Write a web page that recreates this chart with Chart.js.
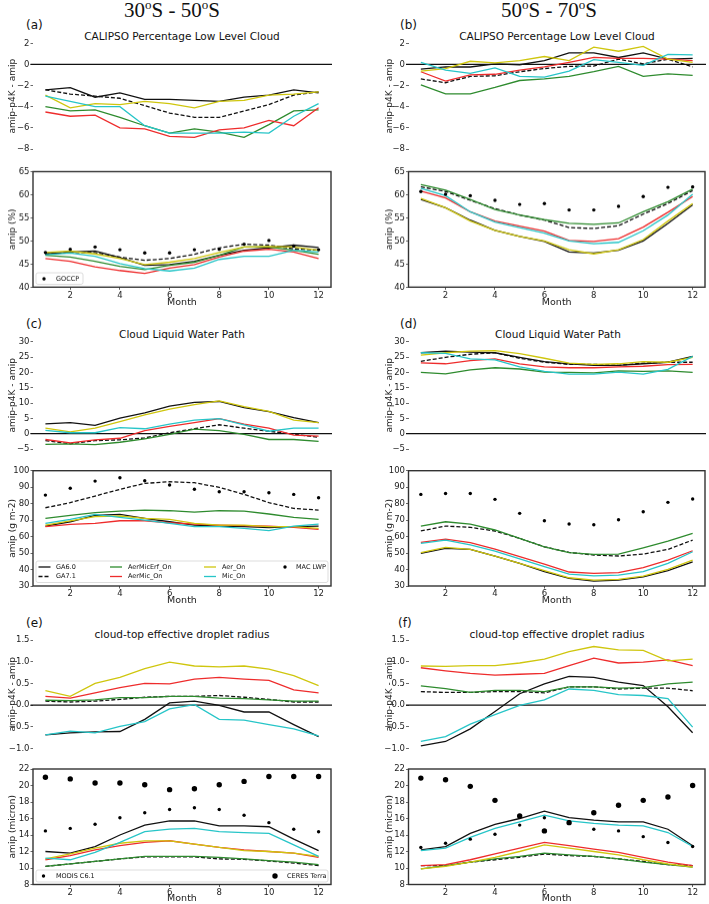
<!DOCTYPE html>
<html><head><meta charset="utf-8">
<script src="https://cdn.jsdelivr.net/npm/chart.js@4.4.1/dist/chart.umd.min.js"></script>
<style>
html,body{margin:0;padding:0;background:#fff;}
body{width:709px;height:904px;position:relative;overflow:hidden;font-family:"DejaVu Sans",sans-serif;color:#111;}
canvas{position:absolute;}
.coltitle{position:absolute;font-family:"Liberation Serif",serif;font-size:21px;line-height:1;white-space:nowrap;transform:translateX(-50%);color:#111;}
.coltitle sup{font-size:13px;vertical-align:8px;line-height:0;}
.plabel{position:absolute;font-size:12px;line-height:1;white-space:nowrap;}
.ptitle{position:absolute;font-size:10.5px;line-height:1;white-space:nowrap;transform:translateX(-50%);}
</style></head><body>
<div class="coltitle" style="left:172px;top:0px">30<sup>o</sup>S - 50<sup>o</sup>S</div>
<div class="coltitle" style="left:549px;top:0px">50<sup>o</sup>S - 70<sup>o</sup>S</div>
<div class="plabel" style="left:26px;top:18.5px">(a)</div>
<div class="plabel" style="left:400px;top:18.5px">(b)</div>
<div class="plabel" style="left:26px;top:317.5px">(c)</div>
<div class="plabel" style="left:400px;top:317.5px">(d)</div>
<div class="plabel" style="left:26px;top:616.5px">(e)</div>
<div class="plabel" style="left:398px;top:616.5px">(f)</div>
<div class="ptitle" style="left:182px;top:30.5px">CALIPSO Percentage Low Level Cloud</div>
<div class="ptitle" style="left:557px;top:30.5px">CALIPSO Percentage Low Level Cloud</div>
<div class="ptitle" style="left:182px;top:328.8px">Cloud Liquid Water Path</div>
<div class="ptitle" style="left:558px;top:328.8px">Cloud Liquid Water Path</div>
<div class="ptitle" style="left:182px;top:628.8px">cloud-top effective droplet radius</div>
<div class="ptitle" style="left:557px;top:628.8px">cloud-top effective droplet radius</div>
<script>
// ---------------- data ----------------
const months = [1,2,3,4,5,6,7,8,9,10,11,12];
const monthTicks = [2,4,6,8,10,12];
const modelNames = ['GA6.0','GA7.1','AerMicErf_On','AerMic_On','Aer_On','Mic_On'];

// tick labels
const lowCloudDiffTicks = [-8,-6,-4,-2,0,2];
const lowCloudAmipTicks = [40,45,50,55,60,65];
const lwpDiffTicks = [-5,0,5,10,15,20,25,30];
const lwpAmipTicks = [30,40,50,60,70,80,90,100];
const reffDiffTicks = [-1.0,-0.5,0.0,0.5,1.0,1.5];
const reffAmipTicks = [8,10,12,14,16,18,20,22];

// (a) CALIPSO low cloud, 30S-50S : amip-p4K - amip
const aDiff_GA60      = [-2.4,-2.2,-3.1,-2.7,-3.3,-3.3,-3.4,-3.5,-3.1,-2.9,-2.4,-2.7];
const aDiff_GA71      = [-2.4,-2.8,-3.0,-3.2,-3.9,-4.6,-5.0,-5.0,-4.4,-3.8,-2.9,-2.6];
const aDiff_AerMicErf = [-4.0,-4.4,-4.3,-5.0,-5.8,-6.5,-6.1,-6.4,-6.9,-5.7,-4.4,-4.3];
const aDiff_AerMic    = [-4.5,-4.9,-4.8,-6.0,-6.1,-6.8,-6.9,-6.2,-6.0,-5.3,-5.8,-4.1];
const aDiff_Aer       = [-2.9,-4.1,-3.7,-3.8,-3.5,-3.7,-4.1,-3.5,-3.4,-2.9,-2.8,-2.6];
const aDiff_Mic       = [-3.0,-3.5,-4.0,-4.0,-5.8,-6.5,-6.5,-6.5,-6.4,-6.5,-4.9,-3.7];
// (a) amip
const aAmip_GA60      = [47.2,47.6,47.8,46.4,44.7,44.9,45.6,46.9,48.0,48.5,49.1,48.6];
const aAmip_GA71      = [47.2,47.5,47.5,46.5,45.8,46.2,47.1,48.5,49.3,49.1,48.3,48.0];
const aAmip_AerMicErf = [46.9,46.5,45.6,44.5,43.8,44.7,45.4,46.9,48.7,48.7,48.0,47.1];
const aAmip_AerMic    = [46.2,45.6,44.4,43.6,43.0,44.1,44.9,46.5,47.8,48.2,47.6,46.2];
const aAmip_Aer       = [47.5,47.8,47.2,46.2,44.9,45.4,46.2,47.5,48.7,48.8,48.7,48.0];
const aAmip_Mic       = [47.0,47.4,46.7,45.1,44.0,43.5,44.1,46.0,46.7,46.7,48.0,47.6];
const aObs_GOCCP      = [47.5,48.2,48.7,48.1,47.4,47.4,48.1,48.2,49.3,50.1,48.9,48.1];

// (b) CALIPSO low cloud, 50S-70S : amip-p4K - amip
const bDiff_GA60      = [-0.45,-0.24,-0.24,0.06,-0.03,0.36,1.1,1.1,0.66,1.1,0.5,0.57];
const bDiff_GA71      = [-1.37,-1.73,-1.13,-1.07,-0.69,-0.39,-0.18,-0.15,0.5,0.06,0.5,-0.24];
const bDiff_AerMicErf = [-1.94,-2.78,-2.78,-2.18,-1.52,-1.37,-1.13,-0.69,-0.18,-1.13,-0.9,-1.04];
const bDiff_AerMic    = [-0.69,-1.58,-0.99,-0.93,-0.54,-0.24,0.2,0.66,0.57,0.57,0.5,0.36];
const bDiff_Aer       = [-0.63,-0.39,0.3,0.15,0.36,0.75,0.36,1.64,1.25,1.7,0.5,0.2];
const bDiff_Mic       = [0.2,-0.54,-0.84,-0.33,-1.13,-1.2,-0.63,0.45,0.2,-0.09,0.95,0.9];
// (b) amip
const bAmip_GA60      = [59.0,57.2,54.5,52.3,51.0,49.9,47.6,47.4,48.0,50.0,53.8,57.8];
const bAmip_GA71      = [61.7,60.7,58.8,57.0,55.6,54.5,52.9,52.7,53.3,55.8,58.1,60.9];
const bAmip_AerMicErf = [62.2,61.0,59.0,56.8,55.6,54.6,53.8,53.6,53.9,56.3,58.5,61.2];
const bAmip_AerMic    = [60.8,59.3,56.3,54.3,53.2,52.1,50.1,49.9,50.5,53.0,56.2,59.6];
const bAmip_Aer       = [59.2,57.2,54.3,52.3,51.0,50.0,48.1,47.2,48.1,50.3,54.3,58.1];
const bAmip_Mic       = [61.4,59.8,56.3,54.1,52.9,51.7,50.0,49.4,49.7,52.2,55.6,60.1];
const bObs_GOCCP      = [60.7,60.1,59.8,58.8,57.9,58.1,56.7,56.7,57.5,59.6,61.6,61.7];

// (c) Cloud liquid water path, 30S-50S : amip-p4K - amip
const cDiff_GA60      = [3.2,3.6,2.7,5.1,6.8,9.0,10.2,10.5,8.5,7.2,5.2,3.6];
const cDiff_GA71      = [-2.3,-3.3,-2.3,-2.0,-1.4,0.3,1.6,2.9,1.8,0.8,-0.2,-1.2];
const cDiff_AerMicErf = [-3.5,-3.3,-3.6,-2.8,-1.7,-0.2,1.5,1.0,-0.2,-1.9,-1.9,-2.5];
const cDiff_AerMic    = [-1.9,-3.0,-2.0,-1.5,1.0,2.4,3.6,4.9,3.1,1.8,-0.5,-0.8];
const cDiff_Aer       = [1.8,0.6,1.8,3.9,6.1,8.0,9.5,10.7,8.8,7.3,4.4,3.6];
const cDiff_Mic       = [1.1,0.3,0.3,2.0,1.6,3.1,4.4,4.9,2.9,0.8,1.8,1.8];
// (c) amip
const cAmip_GA60      = [66.4,69.0,72.9,73.5,71.1,69.0,67.0,66.4,66.0,65.4,66.0,66.4];
const cAmip_GA71      = [77.5,80.6,84.6,88.7,92.3,93.3,92.7,89.9,85.6,80.6,77.1,76.1];
const cAmip_AerMicErf = [71.1,72.9,74.5,75.5,76.1,75.7,74.9,75.7,75.5,73.7,71.7,70.4];
const cAmip_AerMic    = [66.0,67.4,68.0,69.6,69.6,68.4,67.6,67.0,66.6,66.4,65.6,64.4];
const cAmip_Aer       = [67.0,69.6,72.1,72.5,71.1,70.4,68.0,67.0,67.0,66.0,66.0,65.0];
const cAmip_Mic       = [68.0,70.4,73.5,71.7,70.0,68.0,66.0,66.0,65.0,63.6,66.4,67.6];
const cObs_MAC        = [85.2,89.3,93.7,95.7,93.9,91.3,88.7,87.2,87.2,86.6,85.6,83.6];

// (d) Cloud liquid water path, 50S-70S : amip-p4K - amip
const dDiff_GA60      = [26.4,26.9,26.6,26.4,24.9,23.5,22.8,22.3,22.3,22.8,23.3,25.2];
const dDiff_GA71      = [23.6,24.9,25.9,26.4,24.6,23.3,22.6,22.6,22.3,23.0,23.3,23.3];
const dDiff_AerMicErf = [20.0,19.5,20.8,21.5,21.1,20.1,20.0,19.8,20.5,20.3,20.5,20.0];
const dDiff_AerMic    = [23.1,22.8,23.8,24.4,22.8,21.8,21.5,21.5,21.8,22.0,22.5,22.6];
const dDiff_Aer       = [25.6,26.4,26.9,27.1,26.1,24.6,23.0,22.6,22.8,23.5,23.3,24.9];
const dDiff_Mic       = [26.4,26.2,24.4,24.1,21.8,20.3,19.4,19.4,20.1,19.4,21.0,25.2];
// (d) amip
const dAmip_GA60      = [49.8,52.8,52.2,48.2,43.7,38.7,34.6,33.0,33.6,35.6,39.3,44.7];
const dAmip_GA71      = [63.4,66.4,65.6,63.4,58.9,53.8,50.4,48.8,48.2,49.4,52.2,57.9];
const dAmip_AerMicErf = [66.4,69.0,67.6,64.0,58.9,53.8,50.2,49.2,49.4,53.2,57.3,61.9];
const dAmip_AerMic    = [56.5,58.5,56.3,52.4,47.8,43.3,38.5,37.7,38.1,41.1,45.7,51.4];
const dAmip_Aer       = [50.2,53.4,52.2,48.2,43.7,39.3,35.0,33.6,34.0,36.0,40.1,45.7];
const dAmip_Mic       = [55.9,57.9,54.9,51.2,46.4,41.7,37.2,36.2,36.6,38.7,43.7,50.8];
const dObs_MAC        = [85.6,86.2,86.2,82.6,74.1,69.6,67.6,67.2,70.2,75.1,80.8,82.8];

// (e) cloud-top effective droplet radius, 30S-50S : amip-p4K - amip
const eDiff_GA60      = [-0.69,-0.64,-0.62,-0.61,-0.33,0.05,0.09,-0.01,-0.16,-0.16,-0.45,-0.73];
const eDiff_GA71      = [0.09,0.07,0.09,0.13,0.18,0.20,0.20,0.22,0.18,0.13,0.07,0.07];
const eDiff_AerMicErf = [0.11,0.10,0.12,0.17,0.17,0.20,0.20,0.16,0.15,0.12,0.09,0.09];
const eDiff_AerMic    = [0.20,0.16,0.28,0.40,0.50,0.49,0.60,0.64,0.60,0.57,0.35,0.28];
const eDiff_Aer       = [0.33,0.20,0.50,0.64,0.84,0.99,0.90,0.88,0.90,0.83,0.68,0.45];
const eDiff_Mic       = [-0.69,-0.60,-0.64,-0.49,-0.38,-0.09,0.01,-0.33,-0.35,-0.45,-0.55,-0.71];
// (e) amip
const eAmip_GA60      = [12.0,11.8,12.6,14.0,15.2,15.7,15.7,15.1,15.1,15.0,13.5,12.1];
const eAmip_GA71      = [10.2,10.5,10.8,11.1,11.35,11.35,11.35,11.1,11.05,10.85,10.6,10.3];
const eAmip_AerMicErf = [10.2,10.5,10.8,11.1,11.4,11.4,11.4,11.3,11.1,10.9,10.7,10.4];
const eAmip_AerMic    = [11.0,11.5,12.2,12.7,13.1,13.3,12.9,12.5,12.2,12.0,11.8,11.3];
const eAmip_Aer       = [11.1,11.7,12.4,13.0,13.3,13.3,12.9,12.5,12.1,12.0,11.8,11.4];
const eAmip_Mic       = [11.2,11.0,11.9,13.1,14.4,14.7,14.8,14.4,14.3,14.2,12.8,11.4];
const eObs_MODIS      = [14.5,14.8,15.3,16.1,16.7,17.1,17.3,17.1,16.4,15.5,14.7,14.4];
const eObs_CERES      = [21.0,20.8,20.3,20.3,20.1,19.5,19.6,20.1,20.5,21.1,21.1,21.1];

// (f) cloud-top effective droplet radius, 50S-70S : amip-p4K - amip
const fDiff_GA60      = [-0.94,-0.84,-0.55,-0.15,0.26,0.49,0.66,0.64,0.53,0.45,-0.04,-0.64];
const fDiff_GA71      = [0.31,0.29,0.29,0.31,0.31,0.28,0.42,0.42,0.37,0.39,0.39,0.33];
const fDiff_AerMicErf = [0.44,0.38,0.29,0.34,0.34,0.31,0.42,0.42,0.39,0.40,0.49,0.53];
const fDiff_AerMic    = [0.86,0.79,0.73,0.69,0.71,0.73,0.91,1.08,0.97,0.99,1.04,0.91];
const fDiff_Aer       = [0.90,0.89,0.91,0.91,0.97,1.06,1.23,1.35,1.27,1.26,1.02,1.06];
const fDiff_Mic       = [-0.84,-0.73,-0.44,-0.22,-0.01,0.12,0.37,0.34,0.24,0.22,0.15,-0.51];
// (f) amip
const fAmip_GA60      = [12.2,12.6,14.2,15.3,16.0,16.9,16.1,15.8,15.6,15.6,14.7,12.7];
const fAmip_GA71      = [10.3,10.3,10.7,11.0,11.3,11.7,11.5,11.4,11.1,10.8,10.4,10.3];
const fAmip_AerMicErf = [9.9,10.3,10.7,11.1,11.4,11.8,11.6,11.4,11.1,10.7,10.4,10.1];
const fAmip_AerMic    = [10.3,10.4,11.0,11.7,12.4,13.1,12.7,12.3,11.9,11.3,10.7,10.3];
const fAmip_Aer       = [9.9,10.2,10.7,11.3,12.0,12.8,12.4,12.0,11.6,11.0,10.5,10.1];
const fAmip_Mic       = [12.1,12.4,13.7,14.8,15.6,16.4,15.7,15.4,15.2,15.1,14.3,12.6];
const fObs_MODIS      = [12.5,13.0,13.5,14.1,15.2,16.1,15.6,14.7,14.5,13.8,13.1,12.6];
const fObs_CERES      = [20.9,20.7,19.9,18.2,16.3,14.5,15.5,16.7,17.6,18.2,18.6,20.0];

const obsNameGOCCP = 'GOCCP';
const obsNameMAC = 'MAC LWP';
const obsNameMODIS = 'MODIS C6.1';
const obsNameCERES = 'CERES Terra';

// ---------------- styles ----------------
const modelColors = ['#111111','#111111','#2e8b2e','#ee2c2c','#cfc60e','#27c5c8'];
const modelDash = [[],[4,2],[],[],[],[]];
const FONT = '"DejaVu Sans", sans-serif';
const LEFT = {x:0, w:345, l:33, r:331};
const RIGHT = {x:377, w:332, l:408.5, r:705};

function pts(arr){ return months.map((m,i)=>({x:m, y:arr[i]})); }
function modelSets(arrs){
  return arrs.map((a,i)=>({label:modelNames[i], data:pts(a), borderColor:modelColors[i],
    borderDash:modelDash[i], borderWidth:1.3, pointRadius:0, pointHoverRadius:0, tension:0, fill:false, order:20-i}));
}
function obsSet(label, arr, r){
  return {label, data:pts(arr), showLine:false, pointRadius:r, pointHoverRadius:r, pointStyle:'circle',
    backgroundColor:'#000', borderColor:'#000', borderWidth:0, order:0};
}
function fmtInt(v){ return String(v).replace('-', '\u2212'); }
function fmt1(v){ return v.toFixed(1).replace('-', '\u2212'); }

function panel(cfg){
  const col = cfg.col;
  const W = col.w, H = cfg.cBottom - cfg.cTop;
  const cv = document.createElement('canvas');
  cv.width = W; cv.height = H;
  cv.style.left = col.x + 'px'; cv.style.top = cfg.cTop + 'px';
  cv.style.width = W + 'px'; cv.style.height = H + 'px';
  document.body.appendChild(cv);
  const yW = col.l - col.x, padR = col.x + W - col.r, padT = cfg.top - cfg.cTop, xH = cfg.cBottom - cfg.bottom;
  const ox = col.x, oy = cfg.cTop;
  const plugins = [];
  if (cfg.zero) plugins.push({id:'zeroLine', beforeDatasetsDraw(c){
    const ctx = c.ctx, y = c.scales.y.getPixelForValue(0), a = c.chartArea;
    ctx.save(); ctx.strokeStyle = '#111'; ctx.lineWidth = 1.2;
    ctx.beginPath(); ctx.moveTo(a.left - 2.5, y); ctx.lineTo(a.right + 1, y); ctx.stroke(); ctx.restore();
  }});
  if (cfg.framed) plugins.push({id:'frame', afterDatasetsDraw(c){
    const ctx = c.ctx, a = c.chartArea;
    ctx.save(); ctx.strokeStyle = '#333'; ctx.lineWidth = 1.4;
    ctx.strokeRect(a.left, a.top, a.right - a.left, a.bottom - a.top); ctx.restore();
  }});
  if (cfg.legend) plugins.push({id:'panelLegend', afterDatasetsDraw(c){
    const L = cfg.legend, ctx = c.ctx;
    ctx.save();
    const bx = L.box[0]-ox, by = L.box[1]-oy, bw = L.box[2], bh = L.box[3];
    ctx.beginPath(); ctx.roundRect(bx, by, bw, bh, 2);
    ctx.fillStyle = 'rgba(255,255,255,0.85)'; ctx.fill();
    ctx.strokeStyle = '#d4d4d4'; ctx.lineWidth = 0.8; ctx.stroke();
    ctx.font = '6.5px ' + FONT; ctx.textBaseline = 'middle'; ctx.textAlign = 'left';
    L.items.forEach(it => {
      const y = it.y - oy;
      if (it.kind === 'line') {
        ctx.beginPath(); ctx.setLineDash(it.dash || []); ctx.strokeStyle = it.color; ctx.lineWidth = 1.3;
        ctx.moveTo(it.x - ox, y); ctx.lineTo(it.x - ox + 12, y); ctx.stroke(); ctx.setLineDash([]);
      } else {
        ctx.beginPath(); ctx.fillStyle = '#000'; ctx.arc(it.x - ox, y, it.r, 0, Math.PI*2); ctx.fill();
      }
      ctx.fillStyle = '#111'; ctx.fillText(it.label, it.tx - ox, y + 0.3);
    });
    ctx.restore();
  }});
  new Chart(cv, {
    type: 'line',
    data: {datasets: cfg.datasets},
    options: {
      responsive: false, animation: false, devicePixelRatio: 1,
      events: [],
      layout: {padding: {left: 0, top: padT, right: padR, bottom: cfg.showX ? 0 : xH}},
      plugins: {legend: {display: false}, tooltip: {enabled: false}, title: {display: false}},
      scales: {
        x: {
          type: 'linear', min: 0.5, max: 12.5, display: cfg.showX,
          afterBuildTicks: s => { s.ticks = monthTicks.map(v => ({value: v})); },
          afterFit: s => { s.height = xH; s.paddingLeft = 0; s.paddingRight = 0; s.paddingTop = 0; s.paddingBottom = 0; },
          grid: {display: true, drawOnChartArea: false, drawTicks: true, tickLength: 2.5, color: '#333', lineWidth: 0.8},
          border: {display: false},
          ticks: {font: {size: 8.5, family: FONT}, color: '#222', padding: 0.5, maxRotation: 0, autoSkip: false,
                  callback: v => fmtInt(v)},
          title: {display: true, text: 'Month', font: {size: 9.5, family: FONT}, color: '#222', padding: {top: 0, bottom: 0}}
        },
        y: {
          type: 'linear', min: cfg.yMin, max: cfg.yMax,
          afterBuildTicks: s => { s.ticks = cfg.yTicks.map(v => ({value: v})); },
          afterFit: s => { s.width = yW; s.paddingTop = 0; s.paddingBottom = 0; s.paddingLeft = 0; s.paddingRight = 0; },
          grid: {display: true, drawOnChartArea: false, drawTicks: true, tickLength: 2.5, color: '#444', lineWidth: 0.8},
          border: {display: false},
          ticks: {font: {size: 8.5, family: FONT}, color: '#222', padding: 1, autoSkip: false, callback: cfg.yFmt},
          title: {display: true, text: cfg.yTitle, font: {size: 9, family: FONT}, color: '#222', padding: {top: 7.6, bottom: 0}}
        }
      }
    },
    plugins
  });
}

const diffTitle = 'amip-p4K - amip';

// ---- row 1 ----
panel({col: LEFT, cTop: 30, cBottom: 163, top: 43.3, bottom: 156, yMin: -8, yMax: 2, yTicks: lowCloudDiffTicks, yFmt: fmtInt,
  yTitle: diffTitle, showX: false, zero: true,
  datasets: modelSets([aDiff_GA60, aDiff_GA71, aDiff_AerMicErf, aDiff_AerMic, aDiff_Aer, aDiff_Mic])});
panel({col: RIGHT, cTop: 30, cBottom: 163, top: 43.3, bottom: 156, yMin: -8, yMax: 2, yTicks: lowCloudDiffTicks, yFmt: fmtInt,
  yTitle: diffTitle, showX: false, zero: true,
  datasets: modelSets([bDiff_GA60, bDiff_GA71, bDiff_AerMicErf, bDiff_AerMic, bDiff_Aer, bDiff_Mic])});
panel({col: LEFT, cTop: 160, cBottom: 307.7, top: 171.5, bottom: 287, yMin: 40, yMax: 65, yTicks: lowCloudAmipTicks, yFmt: fmtInt,
  yTitle: 'amip (%)', showX: true, framed: true,
  datasets: [...modelSets([aAmip_GA60, aAmip_GA71, aAmip_AerMicErf, aAmip_AerMic, aAmip_Aer, aAmip_Mic]), obsSet(obsNameGOCCP, aObs_GOCCP, 1.7)],
  legend: {box: [36, 272, 47, 11.5], items: [{kind: 'dot', r: 1.7, x: 44, y: 278, tx: 56, label: obsNameGOCCP}]}});
panel({col: RIGHT, cTop: 160, cBottom: 307.7, top: 171.5, bottom: 287, yMin: 40, yMax: 65, yTicks: lowCloudAmipTicks, yFmt: fmtInt,
  yTitle: 'amip (%)', showX: true, framed: true,
  datasets: [...modelSets([bAmip_GA60, bAmip_GA71, bAmip_AerMicErf, bAmip_AerMic, bAmip_Aer, bAmip_Mic]), obsSet(obsNameGOCCP, bObs_GOCCP, 1.7)]});

// ---- row 2 ----
panel({col: LEFT, cTop: 330, cBottom: 462, top: 341.7, bottom: 455.5, yMin: -5, yMax: 30, yTicks: lwpDiffTicks, yFmt: fmtInt,
  yTitle: diffTitle, showX: false, zero: true,
  datasets: modelSets([cDiff_GA60, cDiff_GA71, cDiff_AerMicErf, cDiff_AerMic, cDiff_Aer, cDiff_Mic])});
panel({col: RIGHT, cTop: 330, cBottom: 462, top: 341.7, bottom: 455.5, yMin: -5, yMax: 30, yTicks: lwpDiffTicks, yFmt: fmtInt,
  yTitle: diffTitle, showX: false, zero: true,
  datasets: modelSets([dDiff_GA60, dDiff_GA71, dDiff_AerMicErf, dDiff_AerMic, dDiff_Aer, dDiff_Mic])});
panel({col: LEFT, cTop: 460, cBottom: 606, top: 470.7, bottom: 586, yMin: 30, yMax: 100, yTicks: lwpAmipTicks, yFmt: fmtInt,
  yTitle: 'amip (g m-2)', showX: true, framed: true,
  datasets: [...modelSets([cAmip_GA60, cAmip_GA71, cAmip_AerMicErf, cAmip_AerMic, cAmip_Aer, cAmip_Mic]), obsSet(obsNameMAC, cObs_MAC, 1.7)],
  legend: {box: [36, 561, 292, 21.5], items: [
    {kind: 'line', color: modelColors[0], dash: modelDash[0], x: 38.5, y: 567, tx: 56, label: modelNames[0]},
    {kind: 'line', color: modelColors[1], dash: modelDash[1], x: 38.5, y: 576.5, tx: 56, label: modelNames[1]},
    {kind: 'line', color: modelColors[2], dash: modelDash[2], x: 110, y: 567, tx: 128, label: modelNames[2]},
    {kind: 'line', color: modelColors[3], dash: modelDash[3], x: 110, y: 576.5, tx: 128, label: modelNames[3]},
    {kind: 'line', color: modelColors[4], dash: modelDash[4], x: 204, y: 567, tx: 222, label: modelNames[4]},
    {kind: 'line', color: modelColors[5], dash: modelDash[5], x: 204, y: 576.5, tx: 222, label: modelNames[5]},
    {kind: 'dot', r: 1.7, x: 285, y: 567, tx: 296, label: obsNameMAC}]}});
panel({col: RIGHT, cTop: 460, cBottom: 606, top: 470.7, bottom: 586, yMin: 30, yMax: 100, yTicks: lwpAmipTicks, yFmt: fmtInt,
  yTitle: 'amip (g m-2)', showX: true, framed: true,
  datasets: [...modelSets([dAmip_GA60, dAmip_GA71, dAmip_AerMicErf, dAmip_AerMic, dAmip_Aer, dAmip_Mic]), obsSet(obsNameMAC, dObs_MAC, 1.7)]});

// ---- row 3 ----
panel({col: LEFT, cTop: 628, cBottom: 761, top: 640, bottom: 754.7, yMin: -1, yMax: 1.5, yTicks: reffDiffTicks, yFmt: fmt1,
  yTitle: diffTitle, showX: false, zero: true,
  datasets: modelSets([eDiff_GA60, eDiff_GA71, eDiff_AerMicErf, eDiff_AerMic, eDiff_Aer, eDiff_Mic])});
panel({col: RIGHT, cTop: 628, cBottom: 761, top: 640, bottom: 754.7, yMin: -1, yMax: 1.5, yTicks: reffDiffTicks, yFmt: fmt1,
  yTitle: diffTitle, showX: false, zero: true,
  datasets: modelSets([fDiff_GA60, fDiff_GA71, fDiff_AerMicErf, fDiff_AerMic, fDiff_Aer, fDiff_Mic])});
panel({col: LEFT, cTop: 758, cBottom: 904, top: 769, bottom: 884.5, yMin: 8, yMax: 22, yTicks: reffAmipTicks, yFmt: fmtInt,
  yTitle: 'amip (micron)', showX: true, framed: true,
  datasets: [...modelSets([eAmip_GA60, eAmip_GA71, eAmip_AerMicErf, eAmip_AerMic, eAmip_Aer, eAmip_Mic]),
             obsSet(obsNameMODIS, eObs_MODIS, 1.7), obsSet(obsNameCERES, eObs_CERES, 2.7)],
  legend: {box: [36, 870, 292, 12], items: [
    {kind: 'dot', r: 1.7, x: 43.5, y: 876, tx: 56, label: obsNameMODIS},
    {kind: 'dot', r: 2.7, x: 275, y: 876, tx: 287, label: obsNameCERES}]}});
panel({col: RIGHT, cTop: 758, cBottom: 904, top: 769, bottom: 884.5, yMin: 8, yMax: 22, yTicks: reffAmipTicks, yFmt: fmtInt,
  yTitle: 'amip (micron)', showX: true, framed: true,
  datasets: [...modelSets([fAmip_GA60, fAmip_GA71, fAmip_AerMicErf, fAmip_AerMic, fAmip_Aer, fAmip_Mic]),
             obsSet(obsNameMODIS, fObs_MODIS, 1.7), obsSet(obsNameCERES, fObs_CERES, 2.7)]});
</script>
</body></html>
